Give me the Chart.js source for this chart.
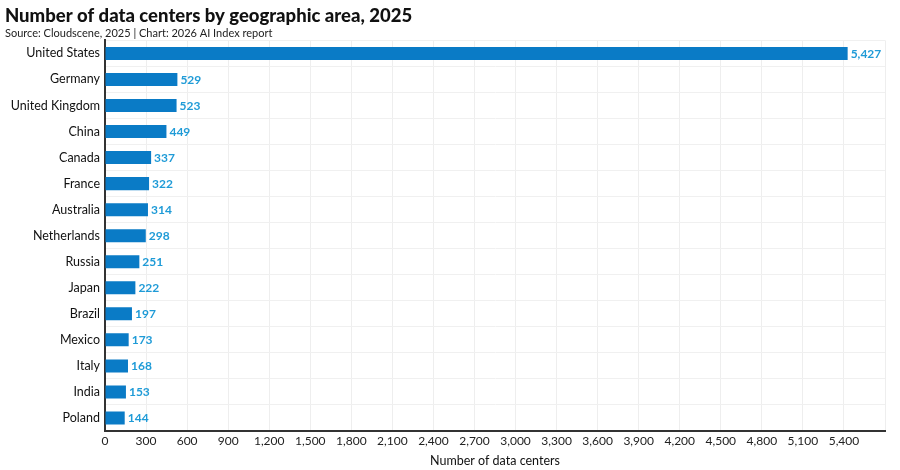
<!DOCTYPE html>
<html>
<head>
<meta charset="utf-8">
<script src="https://cdn.jsdelivr.net/npm/chart.js@4"></script>
<style>
  html, body { margin: 0; padding: 0; background: #ffffff; }
  #wrap { width: 900px; height: 470px; position: relative; }
</style>
</head>
<body>
<div id="wrap"><canvas id="c"></canvas></div>
<script>
const countries = ["United States","Germany","United Kingdom","China","Canada","France","Australia","Netherlands","Russia","Japan","Brazil","Mexico","Italy","India","Poland"];
const dataCenters = [5427,529,523,449,337,322,314,298,251,222,197,173,168,153,144];
const xTickStep = 300;
const xMax = 5700;
const xLabeledMax = 5400;

const FONT = "Lato, 'Liberation Sans', sans-serif";

const valueLabels = {
  id: 'valueLabels',
  afterDatasetsDraw(chart) {
    const ctx = chart.ctx;
    const meta = chart.getDatasetMeta(0);
    ctx.save();
    ctx.font = "bold 12px " + FONT;
    ctx.fillStyle = "#1f9bd7";
    ctx.textBaseline = "middle";
    ctx.textAlign = "left";
    meta.data.forEach((bar, i) => {
      ctx.fillText(dataCenters[i].toLocaleString('en-US'), bar.x + 3, bar.y + 0.5);
    });
    ctx.restore();
  }
};

new Chart(document.getElementById('c'), {
  type: 'bar',
  data: {
    labels: countries,
    datasets: [{
      data: dataCenters,
      backgroundColor: '#0a7bc6',
      borderWidth: 0,
      barPercentage: 0.5,
      categoryPercentage: 1.0
    }]
  },
  options: {
    indexAxis: 'y',
    responsive: true,
    maintainAspectRatio: false,
    animation: false,
    layout: { padding: { left: 5, right: 15, top: 0, bottom: 2 } },
    plugins: {
      legend: { display: false },
      tooltip: { enabled: false },
      title: {
        display: true,
        text: 'Number of data centers by geographic area, 2025',
        align: 'start',
        color: '#111111',
        font: { family: FONT, size: 18.5, weight: '900' },
        padding: { top: 5, bottom: 0 }
      },
      subtitle: {
        display: true,
        text: 'Source: Cloudscene, 2025 | Chart: 2026 AI Index report',
        align: 'start',
        color: '#222222',
        font: { family: FONT, size: 11, weight: '400' },
        padding: { top: 0, bottom: 0 }
      }
    },
    scales: {
      x: {
        min: 0,
        max: xMax,
        ticks: {
          stepSize: xTickStep,
          color: '#222222',
          font: { family: FONT, size: 12 },
          padding: 3,
          maxRotation: 0,
          autoSkip: false,
          callback: (v) => v > xLabeledMax ? '' : v.toLocaleString('en-US')
        },
        grid: { color: '#eeeeee', lineWidth: 1, drawTicks: false },
        border: { color: '#333333', width: 2 },
        title: {
          display: true,
          text: 'Number of data centers',
          color: '#111111',
          font: { family: FONT, size: 12.5, weight: '400' },
          padding: { top: 2, bottom: 0 }
        },
        afterFit: (s) => { s.height = 37; }
      },
      y: {
        ticks: {
          color: '#111111',
          font: { family: FONT, size: 12.5, weight: '400' },
          padding: 5,
          autoSkip: false
        },
        grid: { color: '#f0f0f0', lineWidth: 1, drawTicks: false },
        border: { color: '#333333', width: 2 },
        afterFit: (s) => { s.width = 100; }
      }
    }
  },
  plugins: [valueLabels]
});
</script>
</body>
</html>
